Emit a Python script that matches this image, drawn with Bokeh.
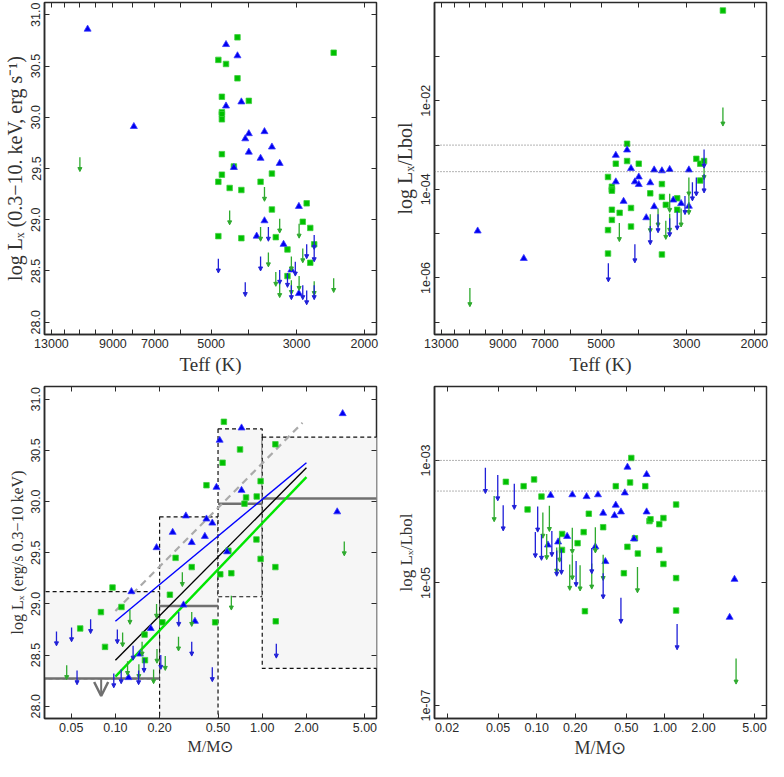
import numpy as np
from bokeh.plotting import figure
from bokeh.layouts import column, row
from bokeh.models import (Range1d, FixedTicker, LogAxis, LinearAxis, Span, Arrow,
                          NormalHead, OpenHead, ColumnDataSource,
                          NumeralTickFormatter, CustomJSTickFormatter)
from bokeh.embed import file_html
from bokeh.resources import INLINE

# ---------------- top left: log Lx vs Teff
teff_sq1 = [4272, 4790, 4575, 4272, 4690, 3992, 4690, 4690, 4690, 4690, 4365, 4690, 4790, 3721, 4477,
            4174, 3477, 3477, 2824, 2891, 2764, 4790, 4174, 3397, 3168, 2700, 2764, 3168, 2403]
lx_sq1 = [30.78, 30.56, 30.52, 30.38, 30.20, 30.16, 30.05, 30.03, 29.98, 29.64, 29.52, 29.44, 29.37, 29.37, 29.31,
          29.29, 29.45, 29.10, 29.16, 28.98, 28.92, 28.84, 28.82, 28.83, 28.71, 28.76, 28.58, 28.45, 30.63]
teff_tri1 = [10470, 7940, 4575, 4272, 4575, 4174, 3992, 4078, 3635, 3992, 3477, 3721, 3319, 4365, 2959,
             3635, 3809, 3243, 3095, 2959]
lx_tri1 = [30.86, 29.91, 30.71, 30.60, 30.11, 30.15, 29.84, 29.79, 29.86, 29.66, 29.71, 29.60, 29.55, 29.51, 29.13,
           28.99, 28.84, 28.76, 28.51, 28.28]
teff_glim1 = [10965, 3635, 4477, 3721, 3319, 2955, 3551, 2891, 3397, 3319, 3095, 3095, 2955, 2700, 2403]
lx_glim1 = [29.61, 29.32, 29.09, 28.93, 29.01, 28.96, 28.68, 28.72, 28.49, 28.38, 28.64, 28.41, 28.45, 28.40, 28.43]
teff_blim1 = [4790, 4078, 3721, 3551, 3319, 3168, 3023, 2824, 2700, 2700, 2891, 2824, 2700, 3095]
lx_blim1 = [28.62, 28.39, 28.64, 28.93, 28.51, 28.48, 28.59, 28.76, 28.85, 28.73, 28.36, 28.31, 28.36, 28.36]

# ---------------- top right: log Lx/Lbol vs Teff
teff_sq2 = [4282, 4581, 4282, 3993, 4800, 4690, 4690, 4690, 3477, 3728, 3477, 3397, 3173, 4690, 4477,
            4183, 4690, 4183, 4800, 4800, 3477, 3173, 2830, 2765, 2702, 2765, 2414]
lr_sq2 = [-2.97, -3.42, -3.36, -3.42, -3.72, -3.94, -4.00, -4.03, -3.88, -4.09, -4.17, -4.35, -4.20, -4.46, -4.53,
          -4.42, -4.69, -4.84, -4.92, -5.45, -5.47, -4.46, -3.31, -3.42, -3.36, -3.80, 0.04]
teff_tri2 = [4581, 4282, 4183, 4581, 3993, 4087, 3993, 3642, 3477, 3319, 2959, 4373, 3728, 3249, 3100,
             2959, 3642, 3818, 10466, 7943]
lr_tri2 = [-3.23, -3.11, -3.53, -3.83, -3.72, -3.83, -3.89, -3.56, -3.58, -3.55, -3.56, -4.27, -3.85, -4.24, -4.32,
           -4.38, -4.39, -4.64, -4.94, -5.56]
teff_glim2 = [10965, 4485, 3728, 3558, 3397, 3319, 3319, 3100, 2959, 2959, 2702, 2414]
lr_glim2 = [-6.23, -4.76, -4.56, -4.43, -4.71, -4.10, -4.55, -4.43, -3.73, -4.15, -3.36, -2.15]
teff_blim2 = [4790, 4087, 3728, 3558, 3319, 3173, 3029, 2897, 2830, 2702, 2702]
lr_blim2 = [-5.67, -5.24, -4.83, -4.56, -4.65, -4.50, -4.15, -3.84, -3.73, -3.10, -3.66]
sat_levels2 = [-3.0, -3.6]

# ---------------- bottom left: log Lx vs mass
mass_sq3 = [0.0576, 0.0797, 0.0956, 0.0850, 0.110, 0.158, 0.159, 0.235, 0.209, 0.257, 0.331, 0.478, 0.518, 0.616,
            0.548, 0.706, 0.537, 0.417, 0.975, 1.229, 0.776, 0.917, 0.757, 0.913, 0.975, 1.229, 0.588, 1.236]
lx_sq3 = [28.76, 28.92, 29.16, 28.58, 28.97, 28.70, 28.45, 29.09, 28.82, 29.45, 29.36, 28.82, 29.29, 29.30,
          30.78, 30.51, 30.38, 30.16, 30.20, 30.56, 30.04, 30.05, 29.98, 29.63, 29.44, 29.36, 29.52, 28.83]
mass_tri3 = [0.1286, 0.174, 0.1229, 0.348, 0.576, 0.147, 0.723, 0.513, 0.488, 0.723, 0.302, 0.417, 0.457,
             0.2455, 0.4066, 0.331, 0.1907, 3.53, 3.24, 0.291]
lx_tri3 = [29.12, 28.76, 28.28, 28.83, 29.51, 28.51, 30.72, 30.60, 30.14, 30.11, 29.86, 29.83, 29.79,
           29.70, 29.66, 29.60, 29.55, 30.86, 29.90, 28.99]
mass_glim3 = [0.0466, 0.1256, 0.112, 0.121, 0.152, 0.1445, 0.182, 0.1907, 0.192, 0.2186, 0.269, 0.331, 0.2857,
              0.616, 3.62]
lx_glim3 = [28.40, 28.94, 28.72, 28.44, 28.63, 28.41, 28.36, 29.00, 28.56, 28.49, 28.68, 28.92, 29.31,
            29.08, 29.61]
mass_blim3 = [0.0397, 0.0503, 0.0678, 0.0548, 0.1031, 0.0975, 0.1095, 0.132, 0.1439, 0.1567, 0.2038, 0.270,
              0.331, 0.457, 1.247]
lx_blim3 = [28.73, 28.77, 28.85, 28.35, 28.75, 28.32, 28.36, 28.59, 28.35, 28.47, 28.50, 28.92,
            28.63, 28.38, 28.61]
bin_lo = [0.03, 0.2, 0.5, 1.0]
bin_hi = [0.2, 0.5, 1.0, 7.0]
bin_median = [28.27, 28.98, 29.98, 30.03]
bin_box_lo = [28.27, 27.5, 29.07, 28.37]
bin_box_hi = [29.12, 29.85, 30.71, 30.63]
bin1_limit_mass = 0.08
fit_mass = [0.1, 2.0]
fit_blue = [28.83, 30.38]
fit_black = [28.45, 30.33]
fit_green = [28.29, 30.24]
fit_dash_mass = [0.1, 1.88]
fit_dash = [28.93, 30.77]

# ---------------- bottom right: log Lx/Lbol vs mass
mass_sq4 = [0.0575, 0.0791, 0.0954, 0.109, 0.0849, 0.158, 0.1575, 0.2085, 0.2325, 0.255, 0.33, 0.2378, 0.4786,
            0.414, 0.535, 0.547, 0.703, 0.758, 0.772, 0.904, 0.974, 0.51, 0.584, 0.615, 0.904, 0.974,
            1.223, 1.223, 1.223]
lr_sq4 = [-3.35, -3.42, -3.31, -3.59, -3.80, -4.20, -4.46, -4.35, -4.17, -3.87, -4.09, -5.46, -4.84,
          -3.42, -3.36, -2.96, -3.42, -3.99, -3.96, -4.04, -3.94, -4.41, -4.27, -4.52, -4.46, -4.69,
          -3.72, -4.92, -5.45]
mass_tri4 = [0.1284, 0.1896, 0.245, 0.3006, 0.5105, 0.720, 0.4867, 0.4138, 0.33, 0.4045, 0.454, 0.720,
             0.1728, 0.1469, 0.1224, 0.2868, 0.3434, 0.5736, 3.49, 3.20]
lr_tri4 = [-3.57, -3.56, -3.59, -3.56, -3.11, -3.23, -3.53, -3.73, -3.86, -3.90, -3.84, -3.84,
           -4.24, -4.33, -4.38, -4.41, -4.65, -4.28, -4.94, -5.56]
mass_glim4 = [0.0466, 0.1117, 0.1256, 0.1197, 0.1433, 0.151, 0.181, 0.1896, 0.1896, 0.218, 0.2688, 0.2868,
              0.33, 0.611, 3.59]
lr_glim4 = [-3.58, -3.85, -3.74, -4.20, -4.42, -4.24, -4.70, -4.10, -4.53, -4.71, -4.68, -4.09,
            -4.54, -4.74, -6.23]
mass_blim4 = [0.0398, 0.0497, 0.0669, 0.0548, 0.1018, 0.0976, 0.109, 0.1313, 0.1433, 0.156, 0.203, 0.2688,
              0.33, 0.454, 1.245]
lr_blim4 = [-3.12, -3.24, -3.38, -3.73, -3.75, -4.17, -4.21, -4.15, -4.47, -4.44, -4.64, -4.43,
            -4.84, -5.24, -5.67]
sat_levels4 = [-3.0, -3.5]

teff_major = [13000, 9000, 7000, 5000, 3000, 2000]
teff_minor = [12000, 11000, 10000, 8000, 6000, 4000]
mass_major3 = [0.05, 0.1, 0.2, 0.5, 1.0, 2.0, 5.0]
mass_major4 = [0.02, 0.05, 0.1, 0.2, 0.5, 1.0, 2.0, 5.0]
lx_major = [28.0, 28.5, 29.0, 29.5, 30.0, 30.5, 31.0]
lr_major2 = [1e-2, 1e-4, 1e-6]
lr_minor2 = [1e-1, 1e-3, 1e-5, 1e-7]
lr_major4 = [1e-3, 1e-5, 1e-7]

GREEN = "#00c000"
BLUE = "#0000f0"
GREEN_ARR = "#2eaa2e"
BLUE_ARR = "#2020d8"
GREY = "#707070"
INK = "#2a2a2a"
TICK_FONT = "Liberation Sans"
TITLE_FONT = "Liberation Serif"
FW, FH = 332, 332
LOGFMT = CustomJSTickFormatter(code="""
const e = Math.round(Math.log10(tick));
return '1e' + (e < 0 ? '-' : '+') + String(Math.abs(e)).padStart(2, '0');
""")


def make_fig(xlog, ylog, xr, yr, left, right, top, bottom):
    p = figure(x_axis_type="log" if xlog else "linear", y_axis_type="log" if ylog else "linear",
               x_range=Range1d(*xr), y_range=Range1d(*yr), frame_width=FW, frame_height=FH,
               min_border_left=left, min_border_right=right, min_border_top=top, min_border_bottom=bottom,
               output_backend="svg", toolbar_location=None)
    p.xgrid.grid_line_color = None
    p.ygrid.grid_line_color = None
    p.outline_line_color = INK
    p.outline_line_width = 1.5
    return p


def dress(p, xlog, ylog, xt, xm, xfmt, yt, ym, yfmt, xtitle, ytitle, xsize, ysize):
    ax, ay = p.xaxis[0], p.yaxis[0]
    for a, t, m, f in ((ax, xt, xm, xfmt), (ay, yt, ym, yfmt)):
        a.ticker = FixedTicker(ticks=t, minor_ticks=m)
        a.formatter = f
        a.major_tick_in, a.major_tick_out = 5, 0
        a.minor_tick_in, a.minor_tick_out = 5, 0
        a.major_label_text_font = TICK_FONT
        a.major_label_text_font_size = "12.5px"
        a.major_label_text_color = INK
        a.major_label_standoff = 4
        a.axis_label_text_font = TITLE_FONT
        a.axis_label_text_font_style = "normal"
        a.axis_label_text_color = "#333333"
        a.axis_label_standoff = 3
        a.axis_line_color = INK
        a.axis_line_width = 1.5
        a.major_tick_line_color = INK
        a.minor_tick_line_color = INK
    ay.major_label_orientation = "vertical"
    ax.axis_label = xtitle
    ay.axis_label = ytitle
    ax.axis_label_text_font_size = xsize
    ay.axis_label_text_font_size = ysize
    # tick marks only on the top and right sides
    for loc, is_log, t, m in (("above", xlog, xt, xm), ("right", ylog, yt, ym)):
        a = LogAxis() if is_log else LinearAxis()
        a.ticker = FixedTicker(ticks=[], minor_ticks=list(t) + list(m))
        a.minor_tick_in, a.minor_tick_out = 5, 0
        a.major_tick_in, a.major_tick_out = 0, 0
        a.minor_tick_line_color = INK
        a.axis_line_color = None
        a.major_label_standoff = 0
        p.add_layout(a, loc)


def limits(p, xs, ys, color, drop, log):
    ys = np.asarray(ys, dtype=float)
    y0 = 10 ** ys if log else ys
    y1 = 10 ** (ys - drop) if log else ys - drop
    src = ColumnDataSource(dict(x=list(xs), y0=list(y0), y1=list(y1)))
    p.add_layout(Arrow(end=NormalHead(size=4, fill_color=color, line_color=color, line_width=1),
                       x_start="x", y_start="y0", x_end="x", y_end="y1", source=src,
                       line_color=color, line_width=1.3))


def points(p, xs_sq, ys_sq, xs_tri, ys_tri, log):
    ysq = 10 ** np.asarray(ys_sq) if log else ys_sq
    ytr = 10 ** np.asarray(ys_tri) if log else ys_tri
    p.scatter(xs_sq, ysq, marker="square", size=5.5, fill_color=GREEN, line_color="#3ccf3c", line_width=0.8)
    p.scatter(xs_tri, ytr, marker="triangle", size=7, fill_color=BLUE, line_color="#3a3aff", line_width=0.8)


teff_range = (13550, 1860)

# panel 1
p1 = make_fig(True, False, teff_range, (27.88, 31.12), 44, 4, 2, 50)
dress(p1, True, False, teff_major, teff_minor, NumeralTickFormatter(format="0"),
      lx_major, [], NumeralTickFormatter(format="0.0"),
      "Teff (K)", "log Lₓ (0.3−10. keV, erg s⁻¹)", "19px", "20px")
points(p1, teff_sq1, lx_sq1, teff_tri1, lx_tri1, False)
limits(p1, teff_glim1, lx_glim1, GREEN_ARR, 0.14, False)
limits(p1, teff_blim1, lx_blim1, BLUE_ARR, 0.14, False)

# panel 2
p2 = make_fig(True, True, teff_range, (10 ** -7.278, 10 ** 0.221), 54, 2, 2, 50)
dress(p2, True, True, teff_major, teff_minor, NumeralTickFormatter(format="0"),
      lr_major2, lr_minor2, LOGFMT, "Teff (K)", "log Lₓ/Lbol", "19px", "20px")
for lev in sat_levels2:
    p2.add_layout(Span(location=10 ** lev, dimension="width", line_color="#666666",
                       line_dash="1 2", line_width=1))
points(p2, teff_sq2, lr_sq2, teff_tri2, lr_tri2, True)
limits(p2, teff_glim2, lr_glim2, GREEN_ARR, 0.42, True)
limits(p2, teff_blim2, lr_blim2, BLUE_ARR, 0.42, True)

# panel 3
p3 = make_fig(True, False, (0.0329, 6.0), (27.88, 31.125), 44, 4, 2, 42)
dress(p3, True, False, mass_major3, [], NumeralTickFormatter(format="0.00"),
      lx_major, [], NumeralTickFormatter(format="0.0"),
      "M/M⊙", "log Lₓ (erg/s 0.3−10 keV)", "16px", "16px")
p3.quad(left=bin_lo, right=bin_hi, bottom=bin_box_lo, top=bin_box_hi, fill_color="#f6f6f6",
        line_color="#111111", line_dash="4 3", line_width=1.2)
p3.segment(x0=bin_lo, y0=bin_median, x1=bin_hi, y1=bin_median, line_color=GREY, line_width=2.5)
p3.add_layout(Arrow(end=OpenHead(size=14, line_color=GREY, line_width=2.5),
                    x_start=bin1_limit_mass, y_start=bin_median[0], x_end=bin1_limit_mass,
                    y_end=bin_median[0] - 0.17, line_color=GREY, line_width=2))
p3.line(fit_dash_mass, fit_dash, line_color="#aaaaaa", line_width=2.2, line_dash="7 5")
p3.line(fit_mass, fit_blue, line_color="#0000ff", line_width=1.4)
p3.line(fit_mass, fit_black, line_color="#000000", line_width=1.4)
p3.line(fit_mass, fit_green, line_color="#00e600", line_width=2.4)
points(p3, mass_sq3, lx_sq3, mass_tri3, lx_tri3, False)
limits(p3, mass_glim3, lx_glim3, GREEN_ARR, 0.14, False)
limits(p3, mass_blim3, lx_blim3, BLUE_ARR, 0.14, False)

# panel 4
p4 = make_fig(True, True, (0.01596, 6.2), (10 ** -7.211, 10 ** -1.794), 54, 2, 2, 42)
dress(p4, True, True, mass_major4, [], NumeralTickFormatter(format="0.00"),
      lr_major4, [], LOGFMT, "M/M⊙", "log Lₓ/Lbol", "18px", "17px")
for lev in sat_levels4:
    p4.add_layout(Span(location=10 ** lev, dimension="width", line_color="#666666",
                       line_dash="1 2", line_width=1))
points(p4, mass_sq4, lr_sq4, mass_tri4, lr_tri4, True)
limits(p4, mass_glim4, lr_glim4, GREEN_ARR, 0.42, True)
limits(p4, mass_blim4, lr_blim4, BLUE_ARR, 0.42, True)

layout = column(row(p1, p2), row(p3, p4))
open("out.html", "w").write(file_html(layout, INLINE))
